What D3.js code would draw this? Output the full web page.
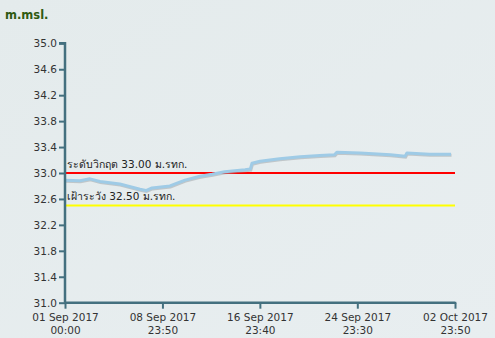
<!DOCTYPE html>
<html><head><meta charset="utf-8">
<script src="https://cdn.jsdelivr.net/npm/d3@7/dist/d3.min.js"></script>
<style>html,body{margin:0;padding:0;}svg{display:block;}</style>
</head><body>
<svg id="c" width="495" height="338"></svg>
<script>
const times = ["2017-09-01T00:00","2017-09-02T05:30","2017-09-03T01:10","2017-09-03T21:00","2017-09-05T12:00","2017-09-07T03:40","2017-09-07T15:20","2017-09-08T03:20","2017-09-09T14:30","2017-09-10T20:10","2017-09-12T01:40","2017-09-13T01:30","2017-09-14T02:30","2017-09-15T18:30","2017-09-16T04:50","2017-09-16T08:10","2017-09-17T00:00","2017-09-18T14:30","2017-09-20T07:10","2017-09-21T21:40","2017-09-23T02:30","2017-09-23T07:10","2017-09-25T04:50","2017-09-27T16:50","2017-09-28T21:40","2017-09-29T01:10","2017-09-30T21:40","2017-10-02T16:00"];
const levels = [32.89,32.88,32.91,32.87,32.83,32.75,32.73,32.77,32.80,32.89,32.95,32.98,33.02,33.05,33.06,33.15,33.18,33.22,33.25,33.27,33.28,33.32,33.31,33.28,33.26,33.31,33.29,33.29];
const xTickTimes = ["2017-09-01T00:00","2017-09-08T23:50","2017-09-16T23:40","2017-09-24T23:30","2017-10-02T23:50"];
const yTicks = [31.0,31.4,31.8,32.2,32.6,33.0,33.4,33.8,34.2,34.6,35.0];
const thresholds = [33.0, 32.5];
const thresholdLabels = ["ระดับวิกฤต 33.00 ม.รทก.","เฝ้าระวัง 32.50 ม.รทก."];
const thresholdColors = ["#ff0000","#ffff00"];
const unitLabel = "m.msl.";

const parse = d3.timeParse("%Y-%m-%dT%H:%M");
const data = times.map((t,i)=>({t:parse(t), v:levels[i]}));
const svg = d3.select("#c");
const defs = svg.append("defs");
const g0 = defs.append("linearGradient").attr("id","bg").attr("x1","0").attr("y1","0").attr("x2","1").attr("y2","1");
g0.append("stop").attr("offset","0").attr("stop-color","#e4ebec");
g0.append("stop").attr("offset","1").attr("stop-color","#e8eef0");
svg.append("rect").attr("width",495).attr("height",338).attr("fill","url(#bg)");

const x = d3.scaleTime().domain([parse(xTickTimes[0]), parse(xTickTimes[4])]).range([65,455]);
const y = d3.scaleLinear().domain([31,35]).range([302.7,43.3]);
const font = "DejaVu Sans, Verdana, sans-serif";

thresholds.forEach((th,i)=>{
  svg.append("line").attr("x1",x.range()[0]).attr("x2",x.range()[1])
    .attr("y1",y(th)).attr("y2",y(th)).attr("stroke",thresholdColors[i]).attr("stroke-width",2);
  svg.append("text").attr("x",67).attr("y",y(th)-5).text(thresholdLabels[i])
    .attr("font-family",font).attr("font-size","10.5px").attr("fill","#222");
});

const line = d3.line().x(d=>x(d.t)).y(d=>y(d.v));
svg.append("path").datum(data).attr("d",line).attr("fill","none")
  .attr("stroke","#9aa0a4").attr("stroke-opacity",0.5).attr("stroke-width",3).attr("transform","translate(0.5,1)");
svg.append("path").datum(data).attr("d",line).attr("fill","none")
  .attr("stroke","#9fcbe6").attr("stroke-width",3).attr("stroke-linejoin","round");

const axisColor = "#44707f";
const ya = svg.append("g").attr("transform","translate(65,0)")
  .call(d3.axisLeft(y).tickValues(yTicks).tickFormat(d3.format(".1f")).tickSize(6).tickPadding(2));
const xa = svg.append("g").attr("transform",`translate(0,${y(31)})`)
  .call(d3.axisBottom(x).tickValues(xTickTimes.map(parse)).tickSize(6).tickFormat(""));
[ya,xa].forEach(a=>{
  a.select(".domain").attr("stroke",axisColor).attr("stroke-width",2.5);
  a.selectAll(".tick line").attr("stroke",axisColor).attr("stroke-width",2);
});
ya.select(".domain").attr("d","M-6,43.3H0V302.7");
xa.select(".domain").attr("d",`M65,0H455V-1`);
ya.selectAll(".tick text").attr("font-family",font).attr("font-size","10.5px").attr("fill","#333");
const f1 = d3.timeFormat("%d %b %Y"), f2 = d3.timeFormat("%H:%M");
xa.selectAll(".tick").each(function(d){
  const t = d3.select(this).append("text").attr("fill","#333").attr("font-family",font).attr("font-size","10.5px").attr("text-anchor","middle");
  t.append("tspan").attr("x",0).attr("y",18).text(f1(d));
  t.append("tspan").attr("x",0).attr("y",31).text(f2(d));
});

svg.append("text").attr("x",5).attr("y",19).text(unitLabel)
  .attr("font-family",font).attr("font-size","11.5px").attr("font-weight","bold").attr("fill","#2f5a12");
</script>
</body></html>
